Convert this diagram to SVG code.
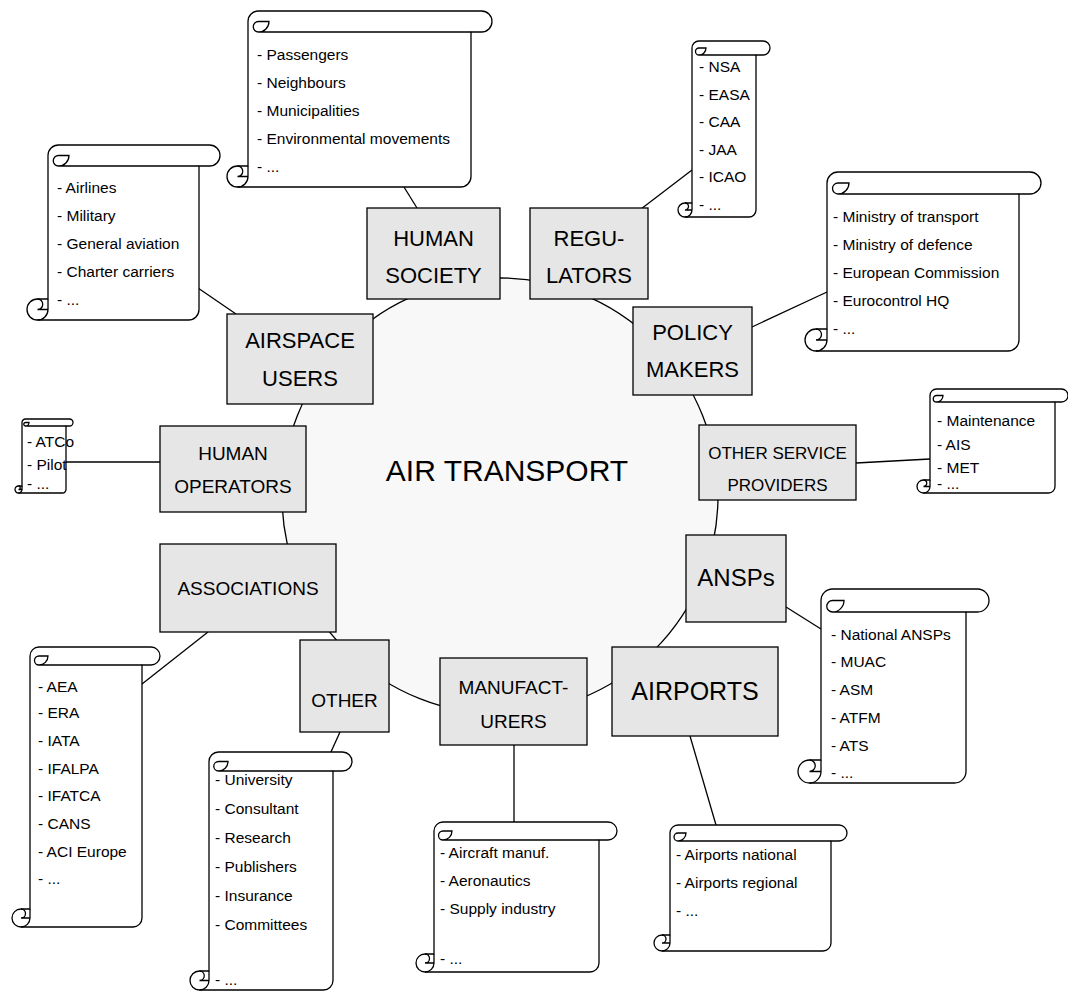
<svg xmlns="http://www.w3.org/2000/svg" width="1068" height="999" viewBox="0 0 1068 999">
<style>
.bg{fill:#ffffff}
.ring{fill:#f8f8f8;stroke:#000;stroke-width:1.3}
.box{fill:#e6e6e6;stroke:#000;stroke-width:1.3}
.sc{fill:#fff;stroke:#000;stroke-width:1.3;stroke-linejoin:round}
.sd{fill:none;stroke:#000;stroke-width:1.3}
.ln{stroke:#000;stroke-width:1.3;fill:none}
.lbl{font-family:"Liberation Sans",Arial,sans-serif;font-size:22px;fill:#000;text-anchor:middle}
.lbs{font-family:"Liberation Sans",Arial,sans-serif;font-size:19px;fill:#000;text-anchor:middle}
.lbx{font-family:"Liberation Sans",Arial,sans-serif;font-size:17px;fill:#000;text-anchor:middle}
.lbb{font-family:"Liberation Sans",Arial,sans-serif;font-size:25px;fill:#000;text-anchor:middle}
.it{font-family:"Liberation Sans",Arial,sans-serif;font-size:15.5px;fill:#000}
.big{font-family:"Liberation Sans",Arial,sans-serif;font-size:30px;fill:#000;text-anchor:middle}
</style>
<rect class="bg" x="0" y="0" width="1068" height="999"/>
<g id="ring"><circle class="ring" cx="500" cy="496" r="218"/>
<text class="big" x="507" y="481">AIR TRANSPORT</text></g>
<g id="connectors">
<line class="ln" x1="404" y1="187" x2="417" y2="208"/>
<line class="ln" x1="641" y1="209" x2="692" y2="170"/>
<line class="ln" x1="752" y1="327" x2="827" y2="292"/>
<line class="ln" x1="198" y1="288" x2="236" y2="314"/>
<line class="ln" x1="66" y1="462" x2="160" y2="462"/>
<line class="ln" x1="856" y1="463" x2="930" y2="459"/>
<line class="ln" x1="208" y1="632" x2="142" y2="684"/>
<line class="ln" x1="786" y1="607" x2="821" y2="629"/>
<line class="ln" x1="340" y1="732" x2="316" y2="785"/>
<line class="ln" x1="514" y1="745" x2="514" y2="822"/>
<line class="ln" x1="690" y1="736" x2="716" y2="825"/>
</g>
<g id="n-society"><rect class="box" x="367" y="208" width="133" height="91"/><text class="lbl" x="433.5" y="246">HUMAN</text><text class="lbl" x="433.5" y="283">SOCIETY</text></g>
<g id="n-regulators"><rect class="box" x="530" y="208" width="118" height="91"/><text class="lbl" x="589" y="246">REGU-</text><text class="lbl" x="589" y="283">LATORS</text></g>
<g id="n-airspace"><rect class="box" x="227" y="314" width="146" height="90"/><text class="lbl" x="300" y="348">AIRSPACE</text><text class="lbl" x="300" y="386">USERS</text></g>
<g id="n-policy"><rect class="box" x="633" y="307" width="119" height="88"/><text class="lbl" x="692.5" y="340">POLICY</text><text class="lbl" x="692.5" y="377">MAKERS</text></g>
<g id="n-operators"><rect class="box" x="160" y="426" width="146" height="86"/><text class="lbs" x="233" y="460">HUMAN</text><text class="lbs" x="233" y="493">OPERATORS</text></g>
<g id="n-osp"><rect class="box" x="699" y="425" width="157" height="75"/><text class="lbx" x="777.5" y="459">OTHER SERVICE</text><text class="lbx" x="777.5" y="491">PROVIDERS</text></g>
<g id="n-assoc"><rect class="box" x="160" y="544" width="176" height="88"/><text class="lbs" x="248" y="595">ASSOCIATIONS</text></g>
<g id="n-ansp"><rect class="box" x="686" y="535" width="100" height="87"/><text class="lbl" x="736" y="586" style="font-size:24px">ANSPs</text></g>
<g id="n-other"><rect class="box" x="300" y="640" width="89" height="92"/><text class="lbs" x="344.5" y="707">OTHER</text></g>
<g id="n-manuf"><rect class="box" x="440" y="658" width="147" height="87"/><text class="lbs" x="513.5" y="694">MANUFACT-</text><text class="lbs" x="513.5" y="728">URERS</text></g>
<g id="n-airports"><rect class="box" x="612" y="647" width="166" height="89"/><text class="lbb" x="695" y="700">AIRPORTS</text></g>

<g id="s-society" transform="translate(227,11)">
<path class="sc" d="M21,155 L21,10.5 A10.5,10.5 0 0 1 31.5,0 L254.5,0 A10.5,10.5 0 0 1 254.5,21 L244,21 L244,165.5 A10.5,10.5 0 0 1 233.5,176 L10.5,176 A10.5,10.5 0 0 1 10.5,155 Z"/>
<path class="sd" d="M42,10.5 A10.5,10.5 0 0 1 31.5,21 A5.25,5.25 0 0 1 31.5,10.5 Z M244,21 L31.5,21 M10.5,155 A5.25,5.25 0 0 1 10.5,165.5 L21,165.5 M10.5,176 A10.5,10.5 0 0 0 21,165.5 L21,155"/>
<text class="it" x="30" y="49">- Passengers</text><text class="it" x="30" y="77">- Neighbours</text><text class="it" x="30" y="105">- Municipalities</text><text class="it" x="30" y="133">- Environmental movements</text><text class="it" x="30" y="161">- ...</text>
</g>
<g id="s-regulators" transform="translate(678,41)">
<path class="sc" d="M14,162 L14,7 A7,7 0 0 1 21,0 L85,0 A7,7 0 0 1 85,14 L78,14 L78,169 A7,7 0 0 1 71,176 L7,176 A7,7 0 0 1 7,162 Z"/>
<path class="sd" d="M28,7 A7,7 0 0 1 21,14 A3.5,3.5 0 0 1 21,7 Z M78,14 L21,14 M7,162 A3.5,3.5 0 0 1 7,169 L14,169 M7,176 A7,7 0 0 0 14,169 L14,162"/>
<text class="it" x="21" y="31">- NSA</text><text class="it" x="21" y="59">- EASA</text><text class="it" x="21" y="86">- CAA</text><text class="it" x="21" y="114">- JAA</text><text class="it" x="21" y="141">- ICAO</text><text class="it" x="21" y="169">- ...</text>
</g>
<g id="s-policy" transform="translate(805,172)">
<path class="sc" d="M22,157 L22,11 A11,11 0 0 1 33,0 L225,0 A11,11 0 0 1 225,22 L214,22 L214,168 A11,11 0 0 1 203,179 L11,179 A11,11 0 0 1 11,157 Z"/>
<path class="sd" d="M44,11 A11,11 0 0 1 33,22 A5.5,5.5 0 0 1 33,11 Z M214,22 L33,22 M11,157 A5.5,5.5 0 0 1 11,168 L22,168 M11,179 A11,11 0 0 0 22,168 L22,157"/>
<text class="it" x="28" y="50">- Ministry of transport</text><text class="it" x="28" y="78">- Ministry of defence</text><text class="it" x="28" y="106">- European Commission</text><text class="it" x="28" y="134">- Eurocontrol HQ</text><text class="it" x="28" y="162">- ...</text>
</g>
<g id="s-airspace" transform="translate(27,145)">
<path class="sc" d="M21,154 L21,10.5 A10.5,10.5 0 0 1 31.5,0 L182.5,0 A10.5,10.5 0 0 1 182.5,21 L172,21 L172,164.5 A10.5,10.5 0 0 1 161.5,175 L10.5,175 A10.5,10.5 0 0 1 10.5,154 Z"/>
<path class="sd" d="M42,10.5 A10.5,10.5 0 0 1 31.5,21 A5.25,5.25 0 0 1 31.5,10.5 Z M172,21 L31.5,21 M10.5,154 A5.25,5.25 0 0 1 10.5,164.5 L21,164.5 M10.5,175 A10.5,10.5 0 0 0 21,164.5 L21,154"/>
<text class="it" x="30" y="48">- Airlines</text><text class="it" x="30" y="76">- Military</text><text class="it" x="30" y="104">- General aviation</text><text class="it" x="30" y="132">- Charter carriers</text><text class="it" x="30" y="160">- ...</text>
</g>
<g id="s-operators" transform="translate(15,419)">
<path class="sc" d="M7,67 L7,3.5 A3.5,3.5 0 0 1 10.5,0 L54.5,0 A3.5,3.5 0 0 1 54.5,7 L51,7 L51,70.5 A3.5,3.5 0 0 1 47.5,74 L3.5,74 A3.5,3.5 0 0 1 3.5,67 Z"/>
<path class="sd" d="M14,3.5 A3.5,3.5 0 0 1 10.5,7 A1.75,1.75 0 0 1 10.5,3.5 Z M51,7 L10.5,7 M3.5,67 A1.75,1.75 0 0 1 3.5,70.5 L7,70.5 M3.5,74 A3.5,3.5 0 0 0 7,70.5 L7,67"/>
<text class="it" x="12" y="28">- ATCo</text><text class="it" x="12" y="51">- Pilot</text><text class="it" x="12" y="70">- ...</text>
</g>
<g id="s-osp" transform="translate(917,389)">
<path class="sc" d="M13,91 L13,6.5 A6.5,6.5 0 0 1 19.5,0 L144.5,0 A6.5,6.5 0 0 1 144.5,13 L138,13 L138,97.5 A6.5,6.5 0 0 1 131.5,104 L6.5,104 A6.5,6.5 0 0 1 6.5,91 Z"/>
<path class="sd" d="M26,6.5 A6.5,6.5 0 0 1 19.5,13 A3.25,3.25 0 0 1 19.5,6.5 Z M138,13 L19.5,13 M6.5,91 A3.25,3.25 0 0 1 6.5,97.5 L13,97.5 M6.5,104 A6.5,6.5 0 0 0 13,97.5 L13,91"/>
<text class="it" x="20" y="37">- Maintenance</text><text class="it" x="20" y="61">- AIS</text><text class="it" x="20" y="84">- MET</text><text class="it" x="20" y="100">- ...</text>
</g>
<g id="s-assoc" transform="translate(12,647)">
<path class="sc" d="M18,262 L18,9 A9,9 0 0 1 27,0 L139,0 A9,9 0 0 1 139,18 L130,18 L130,271 A9,9 0 0 1 121,280 L9,280 A9,9 0 0 1 9,262 Z"/>
<path class="sd" d="M36,9 A9,9 0 0 1 27,18 A4.5,4.5 0 0 1 27,9 Z M130,18 L27,18 M9,262 A4.5,4.5 0 0 1 9,271 L18,271 M9,280 A9,9 0 0 0 18,271 L18,262"/>
<text class="it" x="26" y="45">- AEA</text><text class="it" x="26" y="71">- ERA</text><text class="it" x="26" y="98.5">- IATA</text><text class="it" x="26" y="126.5">- IFALPA</text><text class="it" x="26" y="153.5">- IFATCA</text><text class="it" x="26" y="181.5">- CANS</text><text class="it" x="26" y="210">- ACI Europe</text><text class="it" x="26" y="237">- ...</text>
</g>
<g id="s-ansp" transform="translate(798,589)">
<path class="sc" d="M23,171 L23,11.5 A11.5,11.5 0 0 1 34.5,0 L179.5,0 A11.5,11.5 0 0 1 179.5,23 L168,23 L168,182.5 A11.5,11.5 0 0 1 156.5,194 L11.5,194 A11.5,11.5 0 0 1 11.5,171 Z"/>
<path class="sd" d="M46,11.5 A11.5,11.5 0 0 1 34.5,23 A5.75,5.75 0 0 1 34.5,11.5 Z M168,23 L34.5,23 M11.5,171 A5.75,5.75 0 0 1 11.5,182.5 L23,182.5 M11.5,194 A11.5,11.5 0 0 0 23,182.5 L23,171"/>
<text class="it" x="33" y="51">- National ANSPs</text><text class="it" x="33" y="78">- MUAC</text><text class="it" x="33" y="106">- ASM</text><text class="it" x="33" y="134">- ATFM</text><text class="it" x="33" y="161.5">- ATS</text><text class="it" x="33" y="189">- ...</text>
</g>
<g id="s-other" transform="translate(190,752)">
<path class="sc" d="M19,219 L19,9.5 A9.5,9.5 0 0 1 28.5,0 L152.5,0 A9.5,9.5 0 0 1 152.5,19 L143,19 L143,228.5 A9.5,9.5 0 0 1 133.5,238 L9.5,238 A9.5,9.5 0 0 1 9.5,219 Z"/>
<path class="sd" d="M38,9.5 A9.5,9.5 0 0 1 28.5,19 A4.75,4.75 0 0 1 28.5,9.5 Z M143,19 L28.5,19 M9.5,219 A4.75,4.75 0 0 1 9.5,228.5 L19,228.5 M9.5,238 A9.5,9.5 0 0 0 19,228.5 L19,219"/>
<text class="it" x="25" y="33">- University</text><text class="it" x="25" y="62">- Consultant</text><text class="it" x="25" y="91">- Research</text><text class="it" x="25" y="120">- Publishers</text><text class="it" x="25" y="149">- Insurance</text><text class="it" x="25" y="178">- Committees</text><text class="it" x="25" y="233">- ...</text>
</g>
<g id="s-manuf" transform="translate(416,822)">
<path class="sc" d="M18,132 L18,9 A9,9 0 0 1 27,0 L192,0 A9,9 0 0 1 192,18 L183,18 L183,141 A9,9 0 0 1 174,150 L9,150 A9,9 0 0 1 9,132 Z"/>
<path class="sd" d="M36,9 A9,9 0 0 1 27,18 A4.5,4.5 0 0 1 27,9 Z M183,18 L27,18 M9,132 A4.5,4.5 0 0 1 9,141 L18,141 M9,150 A9,9 0 0 0 18,141 L18,132"/>
<text class="it" x="24" y="36">- Aircraft manuf.</text><text class="it" x="24" y="64">- Aeronautics</text><text class="it" x="24" y="92">- Supply industry</text><text class="it" x="24" y="142">- ...</text>
</g>
<g id="s-airports" transform="translate(654,825)">
<path class="sc" d="M16,110 L16,8 A8,8 0 0 1 24,0 L185,0 A8,8 0 0 1 185,16 L177,16 L177,118 A8,8 0 0 1 169,126 L8,126 A8,8 0 0 1 8,110 Z"/>
<path class="sd" d="M32,8 A8,8 0 0 1 24,16 A4,4 0 0 1 24,8 Z M177,16 L24,16 M8,110 A4,4 0 0 1 8,118 L16,118 M8,126 A8,8 0 0 0 16,118 L16,110"/>
<text class="it" x="22" y="35">- Airports national</text><text class="it" x="22" y="63">- Airports regional</text><text class="it" x="22" y="91">- ...</text>
</g>
</svg>
